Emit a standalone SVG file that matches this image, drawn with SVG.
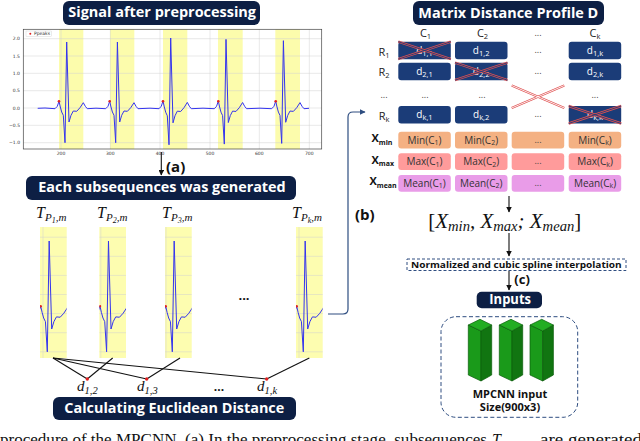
<svg xmlns="http://www.w3.org/2000/svg" xmlns:xlink="http://www.w3.org/1999/xlink" width="640" height="441" viewBox="0 0 640 441">
<style>
.title{fill:#0d1f44}
.tt{font-family:"Open Sans","Noto Sans",sans-serif;font-weight:700;fill:#fff}
.bt{font-family:"Open Sans","Noto Sans",sans-serif;font-weight:700;fill:#111}
.lab{font-family:"Open Sans","Noto Sans",sans-serif;fill:#222;font-size:11px}
.ct{font-family:"Open Sans","Noto Sans",sans-serif;font-size:10px;text-anchor:middle}
.math{font-family:"Liberation Serif","DejaVu Serif",serif;font-style:italic;fill:#111}
.tick{font-family:"DejaVu Sans",sans-serif;font-size:4.5px;fill:#333}
.grid{stroke:#d0d0d0;stroke-width:0.5}
.sig{fill:none;stroke:#3434ee;stroke-width:1;stroke-linejoin:round}
.band{fill:#fbfb9e;opacity:0.85}
.dcell{fill:#1b3c78}
.conn{fill:none;stroke:#111;stroke-width:1.1}
.blue{fill:none;stroke:#2e4d80;stroke-width:1.2}
.xr{stroke:#e05050;stroke-width:2.4;fill:none}
.xi{stroke:#1b3c78;stroke-width:0.9;fill:none}
.xw{stroke:#fff;stroke-width:0.9;fill:none}
.dots{font-family:"Open Sans","Noto Sans",sans-serif;font-size:9px;fill:#444;text-anchor:middle}
.gf{fill:#1a9a1a;stroke:#0b5d0b;stroke-width:0.7}
.gs{fill:#117511;stroke:#0b5d0b;stroke-width:0.7}
.gt{fill:#22ad22;stroke:#0b5d0b;stroke-width:0.7}
</style>
<defs>
<path id="beat" vector-effect="non-scaling-stroke" d="M-4,0.7 L-1.7,-1.7 L0,-6.7 L1.3,-1 L2.7,4 L4.3,7.3 L6,34.7 L7.7,-66 L10,14 L12,7.3 L14.3,3 L17.7,3.3 L21,-0.3 L24.3,-5.3 L26.3,-1.7 L28.3,0.7"/>
<marker id="ah" viewBox="0 0 10 10" refX="9" refY="5" markerWidth="5" markerHeight="5" orient="auto"><path d="M0,0 L10,5 L0,10 z" fill="#111"/></marker>
<marker id="ahb" viewBox="0 0 10 10" refX="9" refY="5" markerWidth="5" markerHeight="5" orient="auto"><path d="M0,0 L10,5 L0,10 z" fill="#2e4d80"/></marker>
<clipPath id="subclip"><rect x="0" y="0" width="26.7" height="131"/></clipPath>
</defs>

<!-- Title: signal -->
<g id="title-signal">
<rect class="title" x="63" y="1" width="197" height="24" rx="6"/>
<text class="tt" x="68.3" y="17" font-size="15" textLength="187.7" lengthAdjust="spacingAndGlyphs">Signal after preprocessing</text>
</g>

<!-- Signal plot -->
<g id="signal-plot">
<rect x="23.3" y="29.3" width="298.4" height="119.7" fill="#fff"/>
<rect class="band" x="59" y="29.3" width="24.3" height="119.7"/>
<rect class="band" x="110" y="29.3" width="24.3" height="119.7"/>
<rect class="band" x="163" y="29.3" width="24.3" height="119.7"/>
<rect class="band" x="218" y="29.3" width="24.7" height="119.7"/>
<rect class="band" x="275.3" y="29.3" width="24.7" height="119.7"/>
<g class="grid">
<line x1="23.3" y1="38.7" x2="321.7" y2="38.7"/>
<line x1="23.3" y1="56" x2="321.7" y2="56"/>
<line x1="23.3" y1="73.3" x2="321.7" y2="73.3"/>
<line x1="23.3" y1="90.7" x2="321.7" y2="90.7"/>
<line x1="23.3" y1="108" x2="321.7" y2="108"/>
<line x1="23.3" y1="125.3" x2="321.7" y2="125.3"/>
<line x1="23.3" y1="142.7" x2="321.7" y2="142.7"/>
<line x1="61" y1="29.3" x2="61" y2="149"/>
<line x1="110.3" y1="29.3" x2="110.3" y2="149"/>
<line x1="160" y1="29.3" x2="160" y2="149"/>
<line x1="210" y1="29.3" x2="210" y2="149"/>
<line x1="259.3" y1="29.3" x2="259.3" y2="149"/>
<line x1="309.3" y1="29.3" x2="309.3" y2="149"/>
</g>
<rect x="23.3" y="29.3" width="298.4" height="119.7" fill="none" stroke="#444" stroke-width="0.7"/>
<path class="sig" d="M37.7,108.3 L45,108 L55,108.7 M87.3,108.7 L96,108.2 L105.7,108.7 M138,108.7 L150,108.2 L159,108.7 M191.3,108.7 L203,108.2 L214.3,108.7 M246.6,108.7 L260,108.2 L271.7,108.7 M304,108.7 L309,108.3"/>
<use href="#beat" class="sig" transform="translate(59,108)"/>
<use href="#beat" class="sig" transform="translate(109.7,108)"/>
<use href="#beat" class="sig" transform="translate(163,108) scale(1,1.06)"/>
<use href="#beat" class="sig" transform="translate(218.3,108) scale(1,1.04)"/>
<use href="#beat" class="sig" transform="translate(275.7,108) scale(1,1.02)"/>
<g fill="#e02020">
<circle cx="59" cy="101.3" r="1.3"/>
<circle cx="109.7" cy="101.3" r="1.3"/>
<circle cx="163" cy="101.3" r="1.3"/>
<circle cx="218.3" cy="101.3" r="1.3"/>
<circle cx="275.7" cy="101.3" r="1.3"/>
</g>
<rect x="26" y="31" width="25.5" height="5.7" fill="#fff" stroke="#ccc" stroke-width="0.4"/>
<circle cx="30.3" cy="33.8" r="1" fill="#e02020"/>
<text class="tick" x="34" y="35.3" font-size="3.6">Ppeaks</text>
<g text-anchor="end">
<text class="tick" x="20" y="40.2">2.0</text>
<text class="tick" x="20" y="57.5">1.5</text>
<text class="tick" x="20" y="74.8">1.0</text>
<text class="tick" x="20" y="92.2">0.5</text>
<text class="tick" x="20" y="109.5">0.0</text>
<text class="tick" x="20" y="126.8">−0.5</text>
<text class="tick" x="20" y="144.2">−1.0</text>
</g>
<g text-anchor="middle">
<text class="tick" x="61" y="155">200</text>
<text class="tick" x="110.3" y="155">300</text>
<text class="tick" x="160" y="155">400</text>
<text class="tick" x="210" y="155">500</text>
<text class="tick" x="259.3" y="155">600</text>
<text class="tick" x="309.3" y="155">700</text>
</g>
</g>

<!-- Title: subsequences -->
<g id="title-subseq">
<rect class="title" x="26" y="176" width="270" height="24" rx="6"/>
<text class="tt" x="38.3" y="192" font-size="15" textLength="247.4" lengthAdjust="spacingAndGlyphs">Each subsequences was generated</text>
</g>

<!-- subsequence labels -->
<g id="sub-labels" class="math">
<text x="36" y="218" font-size="16">T<tspan font-size="11" dy="3">P</tspan><tspan font-size="8" dy="2">1</tspan><tspan font-size="11" dy="-2">,m</tspan></text>
<text x="97" y="218" font-size="16">T<tspan font-size="11" dy="3">P</tspan><tspan font-size="8" dy="2">2</tspan><tspan font-size="11" dy="-2">,m</tspan></text>
<text x="162" y="218" font-size="16">T<tspan font-size="11" dy="3">P</tspan><tspan font-size="8" dy="2">3</tspan><tspan font-size="11" dy="-2">,m</tspan></text>
<text x="292" y="218" font-size="16">T<tspan font-size="11" dy="3">P</tspan><tspan font-size="8" dy="2">k</tspan><tspan font-size="11" dy="-2">,m</tspan></text>
</g>

<!-- subsequences -->
<g id="sub1" transform="translate(40,227)">
<rect x="0" y="0" width="26.7" height="131" fill="#fdfdb0"/>
<g clip-path="url(#subclip)">
<g class="grid" stroke="#d6d6a8"><line x1="0" y1="10.2" x2="27" y2="10.2"/><line x1="0" y1="29.3" x2="27" y2="29.3"/><line x1="0" y1="48.4" x2="27" y2="48.4"/><line x1="0" y1="67.5" x2="27" y2="67.5"/><line x1="0" y1="86.6" x2="27" y2="86.6"/><line x1="0" y1="105.7" x2="27" y2="105.7"/><line x1="0" y1="124.8" x2="27" y2="124.8"/><line x1="3" y1="0" x2="3" y2="131"/></g>
<use href="#beat" class="sig" transform="translate(0.7,86.6) scale(1.1)"/>
<circle cx="0.7" cy="79.2" r="1.2" fill="#e02020"/>
</g>
</g>
<g id="sub2" transform="translate(99.3,227)">
<rect x="0" y="0" width="26.7" height="131" fill="#fdfdb0"/>
<g clip-path="url(#subclip)">
<g class="grid" stroke="#d6d6a8"><line x1="0" y1="10.2" x2="27" y2="10.2"/><line x1="0" y1="29.3" x2="27" y2="29.3"/><line x1="0" y1="48.4" x2="27" y2="48.4"/><line x1="0" y1="67.5" x2="27" y2="67.5"/><line x1="0" y1="86.6" x2="27" y2="86.6"/><line x1="0" y1="105.7" x2="27" y2="105.7"/><line x1="0" y1="124.8" x2="27" y2="124.8"/><line x1="1.5" y1="0" x2="1.5" y2="131"/></g>
<use href="#beat" class="sig" transform="translate(0.7,86.6) scale(1.1)"/>
<circle cx="0.7" cy="79.2" r="1.2" fill="#e02020"/>
</g>
</g>
<g id="sub3" transform="translate(165,227)">
<rect x="0" y="0" width="26.7" height="131" fill="#fdfdb0"/>
<g clip-path="url(#subclip)">
<g class="grid" stroke="#d6d6a8"><line x1="0" y1="10.2" x2="27" y2="10.2"/><line x1="0" y1="29.3" x2="27" y2="29.3"/><line x1="0" y1="48.4" x2="27" y2="48.4"/><line x1="0" y1="67.5" x2="27" y2="67.5"/><line x1="0" y1="86.6" x2="27" y2="86.6"/><line x1="0" y1="105.7" x2="27" y2="105.7"/><line x1="0" y1="124.8" x2="27" y2="124.8"/><line x1="1" y1="0" x2="1" y2="131"/></g>
<use href="#beat" class="sig" transform="translate(0.7,86.6) scale(1.1)"/>
<circle cx="0.7" cy="79.2" r="1.2" fill="#e02020"/>
</g>
</g>
<g id="sub4" transform="translate(296,227)">
<rect x="0" y="0" width="26.7" height="131" fill="#fdfdb0"/>
<g clip-path="url(#subclip)">
<g class="grid" stroke="#d6d6a8"><line x1="0" y1="10.2" x2="27" y2="10.2"/><line x1="0" y1="29.3" x2="27" y2="29.3"/><line x1="0" y1="48.4" x2="27" y2="48.4"/><line x1="0" y1="67.5" x2="27" y2="67.5"/><line x1="0" y1="86.6" x2="27" y2="86.6"/><line x1="0" y1="105.7" x2="27" y2="105.7"/><line x1="0" y1="124.8" x2="27" y2="124.8"/><line x1="3" y1="0" x2="3" y2="131"/></g>
<use href="#beat" class="sig" transform="translate(0.7,86.6) scale(1.1)"/>
<circle cx="0.7" cy="79.2" r="1.2" fill="#e02020"/>
</g>
</g>
<text x="244" y="300" font-family="Open Sans, sans-serif" font-weight="700" font-size="13" text-anchor="middle" fill="#111">...</text>

<!-- distance labels -->
<g id="d-labels" class="math">
<text x="77" y="390.5" font-size="15">d<tspan font-size="10.5" dy="3">1,2</tspan></text>
<text x="137" y="390.5" font-size="15">d<tspan font-size="10.5" dy="3">1,3</tspan></text>
<text x="257" y="390.5" font-size="15">d<tspan font-size="10.5" dy="3">1,k</tspan></text>
</g>
<text x="219" y="391" font-family="Open Sans, sans-serif" font-weight="700" font-size="12" text-anchor="middle" fill="#111">...</text>

<!-- Title: euclidean -->
<g id="title-euclid">
<rect class="title" x="53" y="397" width="243" height="23" rx="6"/>
<text class="tt" x="64.3" y="412.5" font-size="15" textLength="220" lengthAdjust="spacingAndGlyphs">Calculating Euclidean Distance</text>
</g>

<!-- Title: matrix -->
<g id="title-matrix">
<rect class="title" x="413" y="1" width="191" height="24" rx="6"/>
<text class="tt" x="418.3" y="18.3" font-size="15" textLength="180" lengthAdjust="spacingAndGlyphs">Matrix Distance Profile D</text>
</g>

<!-- Matrix -->
<g id="matrix">
<g class="lab" text-anchor="middle">
<text x="425.5" y="37">C<tspan font-size="7.5" dy="2">1</tspan></text>
<text x="482.5" y="37">C<tspan font-size="7.5" dy="2">2</tspan></text>
<text x="538" y="36" class="dots">...</text>
<text x="595" y="37">C<tspan font-size="7.5" dy="2">k</tspan></text>
<text x="384" y="55.5">R<tspan font-size="7.5" dy="2">1</tspan></text>
<text x="384" y="75.5">R<tspan font-size="7.5" dy="2">2</tspan></text>
<text x="384" y="98" class="dots">...</text>
<text x="384" y="120">R<tspan font-size="7.5" dy="2">k</tspan></text>
</g>
<g>
<rect class="dcell" x="398.3" y="41.7" width="52.5" height="17.5" rx="3"/>
<rect class="dcell" x="455" y="41.7" width="52.5" height="17.5" rx="3"/>
<rect class="dcell" x="568.7" y="41.7" width="52.5" height="17.5" rx="3"/>
<rect class="dcell" x="398.3" y="62.7" width="52.5" height="17.5" rx="3"/>
<rect class="dcell" x="455" y="62.7" width="52.5" height="17.5" rx="3"/>
<rect class="dcell" x="568.7" y="62.7" width="52.5" height="17.5" rx="3"/>
<rect class="dcell" x="398.3" y="106" width="52.5" height="17.5" rx="3"/>
<rect class="dcell" x="455" y="106" width="52.5" height="17.5" rx="3"/>
<rect class="dcell" x="568.7" y="106" width="52.5" height="17.5" rx="3"/>
</g>
<g class="ct" fill="#fff" font-size="11">
<text x="424.5" y="54">d<tspan font-size="7.5" dy="2">1,1</tspan></text>
<text x="481.2" y="54">d<tspan font-size="7.5" dy="2">1,2</tspan></text>
<text x="595" y="54">d<tspan font-size="7.5" dy="2">1,k</tspan></text>
<text x="424.5" y="75">d<tspan font-size="7.5" dy="2">2,1</tspan></text>
<text x="481.2" y="75">d<tspan font-size="7.5" dy="2">2,2</tspan></text>
<text x="595" y="75">d<tspan font-size="7.5" dy="2">2,k</tspan></text>
<text x="424.5" y="118.3">d<tspan font-size="7.5" dy="2">k,1</tspan></text>
<text x="481.2" y="118.3">d<tspan font-size="7.5" dy="2">k,2</tspan></text>
<text x="595" y="118.3">d<tspan font-size="7.5" dy="2">k,k</tspan></text>
</g>
<g class="dots">
<text x="538" y="53">...</text>
<text x="538" y="74">...</text>
<text x="425" y="98">...</text>
<text x="482" y="98">...</text>
<text x="538" y="98">...</text>
<text x="595" y="98">...</text>
<text x="538" y="117">...</text>
</g>
<!-- crosses -->
<g>
<path class="xr" d="M398.3,41.7 L450.8,59.2 M398.3,59.2 L450.8,41.7"/>
<path class="xi" d="M398.3,41.7 L450.8,59.2 M398.3,59.2 L450.8,41.7"/>
<path class="xr" d="M455,62.7 L507.5,80.2 M455,80.2 L507.5,62.7"/>
<path class="xi" d="M455,62.7 L507.5,80.2 M455,80.2 L507.5,62.7"/>
<path class="xr" d="M568.7,106 L621.2,123.5 M568.7,123.5 L621.2,106"/>
<path class="xi" d="M568.7,106 L621.2,123.5 M568.7,123.5 L621.2,106"/>
<path class="xr" d="M511.7,85.5 L564.3,108 M511.7,108 L564.3,85.5"/>
<path class="xw" d="M511.7,85.5 L564.3,108 M511.7,108 L564.3,85.5"/>
</g>
<!-- X rows -->
<g>
<rect x="398.3" y="131.7" width="52.5" height="16.7" rx="3" fill="#f4b183"/>
<rect x="455" y="131.7" width="52.5" height="16.7" rx="3" fill="#f4b183"/>
<rect x="511.7" y="131.7" width="52.5" height="16.7" rx="3" fill="#f4b183"/>
<rect x="568.7" y="131.7" width="52.5" height="16.7" rx="3" fill="#f4b183"/>
<rect x="398.3" y="153.3" width="52.5" height="16.7" rx="3" fill="#ff9b9b"/>
<rect x="455" y="153.3" width="52.5" height="16.7" rx="3" fill="#ff9b9b"/>
<rect x="511.7" y="153.3" width="52.5" height="16.7" rx="3" fill="#ff9b9b"/>
<rect x="568.7" y="153.3" width="52.5" height="16.7" rx="3" fill="#ff9b9b"/>
<rect x="398.3" y="175" width="52.5" height="16.7" rx="3" fill="#e99ce8"/>
<rect x="455" y="175" width="52.5" height="16.7" rx="3" fill="#e99ce8"/>
<rect x="511.7" y="175" width="52.5" height="16.7" rx="3" fill="#e99ce8"/>
<rect x="568.7" y="175" width="52.5" height="16.7" rx="3" fill="#e99ce8"/>
</g>
<g class="ct" fill="#333">
<text x="424.5" y="143.5">Min(C<tspan font-size="7" dy="1.5">1</tspan><tspan dy="-1.5">)</tspan></text>
<text x="481.2" y="143.5">Min(C<tspan font-size="7" dy="1.5">2</tspan><tspan dy="-1.5">)</tspan></text>
<text x="538" y="142.5" class="dots">...</text>
<text x="595" y="143.5">Min(C<tspan font-size="7" dy="1.5">k</tspan><tspan dy="-1.5">)</tspan></text>
<text x="424.5" y="165">Max(C<tspan font-size="7" dy="1.5">1</tspan><tspan dy="-1.5">)</tspan></text>
<text x="481.2" y="165">Max(C<tspan font-size="7" dy="1.5">2</tspan><tspan dy="-1.5">)</tspan></text>
<text x="538" y="164" class="dots">...</text>
<text x="595" y="165">Max(C<tspan font-size="7" dy="1.5">k</tspan><tspan dy="-1.5">)</tspan></text>
<text x="424.5" y="186.8">Mean(C<tspan font-size="7" dy="1.5">1</tspan><tspan dy="-1.5">)</tspan></text>
<text x="481.2" y="186.8">Mean(C<tspan font-size="7" dy="1.5">2</tspan><tspan dy="-1.5">)</tspan></text>
<text x="538" y="185.8" class="dots">...</text>
<text x="595" y="186.8">Mean(C<tspan font-size="7" dy="1.5">k</tspan><tspan dy="-1.5">)</tspan></text>
</g>
<g class="bt" font-size="11">
<text x="371.5" y="142">X<tspan font-size="7" dy="2.5">min</tspan></text>
<text x="371.5" y="163.5">X<tspan font-size="7" dy="2.5">max</tspan></text>
<text x="369.5" y="185.3">X<tspan font-size="7" dy="2.5">mean</tspan></text>
</g>
</g>

<!-- formula -->
<g id="formula">
<text class="math" x="428.3" y="228" font-size="20" textLength="153" lengthAdjust="spacingAndGlyphs"><tspan font-style="normal">[</tspan>X<tspan font-size="14" dy="3">min</tspan><tspan dy="-3">, X</tspan><tspan font-size="14" dy="3">max</tspan><tspan dy="-3">; X</tspan><tspan font-size="14" dy="3">mean</tspan><tspan dy="-3" font-style="normal">]</tspan></text>
</g>

<!-- normalized box -->
<g id="normalize">
<rect x="407" y="259" width="219" height="11.5" fill="#fff" stroke="#2e4d80" stroke-width="1" stroke-dasharray="3,2"/>
<text class="bt" x="411" y="268" font-size="9.5" textLength="210.7" lengthAdjust="spacingAndGlyphs">Normalized and cubic spline interpolation</text>
</g>

<!-- inputs -->
<g id="inputs">
<rect class="title" x="476.7" y="291.7" width="65.3" height="16.6" rx="5"/>
<text class="tt" x="489.3" y="304" font-size="14" textLength="41.7" lengthAdjust="spacingAndGlyphs">Inputs</text>
</g>

<!-- MPCNN input -->
<g id="mpcnn-input">
<rect x="441" y="316.7" width="136.7" height="100.6" rx="15" fill="none" stroke="#2e4d80" stroke-width="1" stroke-dasharray="4,2.5"/>
<g id="bar1">
<path class="gf" d="M468.3,325 L481,331 L481,381 L468.3,375 Z"/>
<path class="gs" d="M481,331 L491.7,325 L491.7,375 L481,381 Z"/>
<path class="gt" d="M468.3,325 L480,319.3 L491.7,325 L481,331 Z"/>
</g>
<use href="#bar1" transform="translate(31,0)"/>
<use href="#bar1" transform="translate(61.7,0)"/>
<text class="bt" font-size="11" text-anchor="middle"><tspan x="510" y="397.5">MPCNN input</tspan><tspan x="510" y="410.5">Size(900x3)</tspan></text>
</g>

<!-- connectors -->
<g id="connectors">
<line class="conn" x1="161.3" y1="152" x2="161.3" y2="175" marker-end="url(#ah)"/>
<text class="bt" x="166" y="172" font-size="15">(a)</text>
<path class="blue" d="M328,314 L343,314 Q348,314 348,309 L348,117 Q348,112 353,112 L365,112" marker-end="url(#ahb)"/>
<text class="bt" x="355" y="220" font-size="15">(b)</text>
<line class="conn" x1="509" y1="196" x2="509" y2="212" marker-end="url(#ah)"/>
<line class="conn" x1="509" y1="233" x2="509" y2="256" marker-end="url(#ah)"/>
<line class="conn" x1="509" y1="271" x2="509" y2="290" marker-end="url(#ah)"/>
<text class="bt" x="514.3" y="284" font-size="13">(c)</text>
<g stroke="#111" stroke-width="1.1">
<line x1="53" y1="358" x2="87.3" y2="379"/>
<line x1="53" y1="358" x2="146.7" y2="379"/>
<line x1="53" y1="358" x2="266.7" y2="379"/>
<line x1="112.7" y1="358" x2="87.3" y2="379"/>
<line x1="180" y1="358" x2="146.7" y2="379"/>
<line x1="309.3" y1="358" x2="266.7" y2="379"/>
</g>
<g fill="#e02020">
<circle cx="87.3" cy="379" r="1.7"/>
<circle cx="146.7" cy="379" r="1.7"/>
<circle cx="266.7" cy="379" r="1.7"/>
</g>
</g>

<!-- caption (cut off) -->
<g id="caption" font-family="Liberation Serif, serif" font-size="16" fill="#111">
<text x="0" y="445" textLength="487" lengthAdjust="spacingAndGlyphs">procedure of the MPCNN. (a) In the preprocessing stage, subsequences</text>
<text x="492" y="445" font-style="italic">T</text>
<text x="540" y="445" textLength="102" lengthAdjust="spacingAndGlyphs">are generated</text>
</g>
</svg>
